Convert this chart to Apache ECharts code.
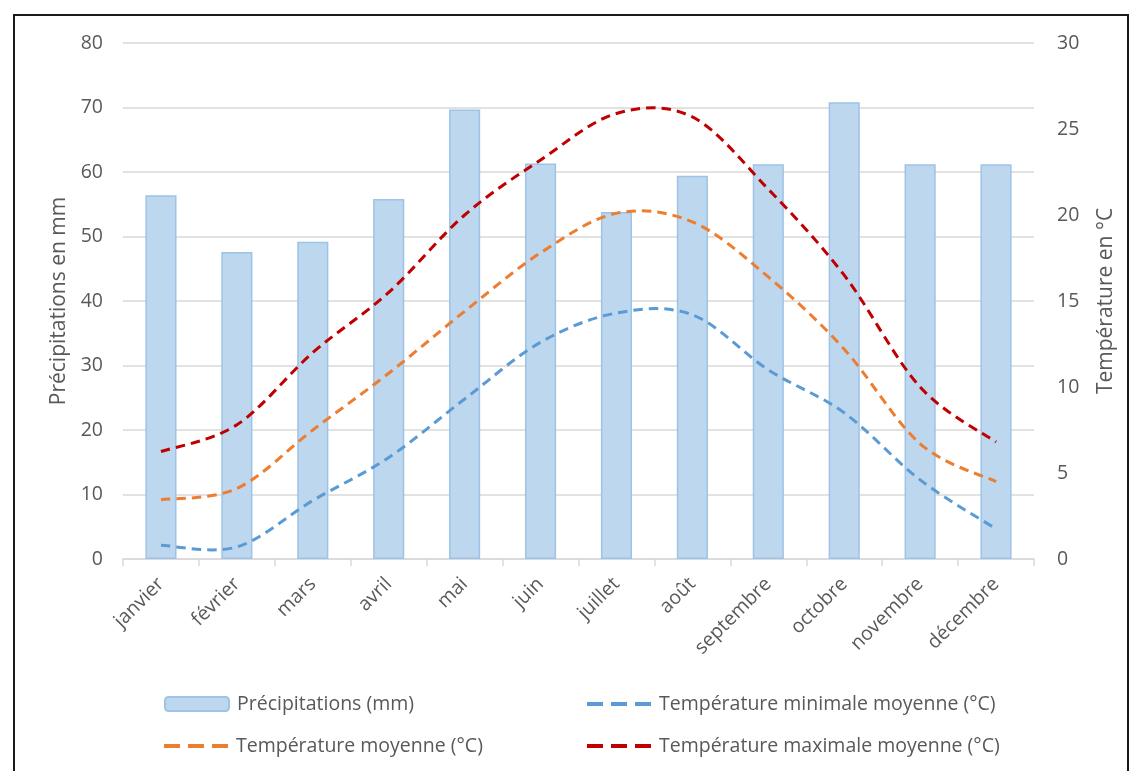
<!DOCTYPE html>
<html><head><meta charset="utf-8">
<script src="https://cdn.jsdelivr.net/npm/echarts@6/dist/echarts.min.js"></script>
<style>html,body{margin:0;padding:0;background:#fff}#c{width:1133px;height:771px}</style>
</head><body><div id="c"></div>
<script>
const categories = ['janvier','février','mars','avril','mai','juin','juillet','août','septembre','octobre','novembre','décembre'];
const precipitations = [56.4, 47.6, 49.2, 55.8, 69.7, 61.3, 53.8, 59.4, 61.2, 70.8, 61.2, 61.2];
const tempMin = [0.8, 0.7, 3.4, 5.9, 9.3, 12.6, 14.3, 14.2, 11.0, 8.5, 4.6, 1.75];
const tempMoy = [3.45, 4.1, 7.5, 10.8, 14.4, 17.8, 20.1, 19.6, 16.4, 12.2, 6.7, 4.5];
const tempMax = [6.25, 7.8, 12.0, 15.5, 20.0, 23.2, 25.9, 25.7, 21.5, 16.5, 10.0, 6.8];
const names = ['Précipitations (mm)','Température minimale moyenne (°C)','Température moyenne (°C)','Température maximale moyenne (°C)'];

const FONT = '"Open Sans", sans-serif';
const TXT = '#595959';
const chart = echarts.init(document.getElementById('c'), null, {renderer:'canvas'});

// Smoothed dashed curve drawn through the axes' scales (Catmull-Rom style bezier, like spreadsheet smoothing)
function curveSeries(name, data, color){
  return {
    name, type:'custom', yAxisIndex:1, z:3,
    data: data.map((v,i)=>[i,v]),
    encode:{x:0, y:1},
    itemStyle:{color},
    renderItem:function(params, api){
      if (params.dataIndex !== 0) return null;
      const pts = data.map((v,i)=>api.coord([i,v]));
      const n = pts.length;
      let d = 'M' + pts[0][0] + ',' + pts[0][1];
      for (let i=0;i<n-1;i++){
        const p0 = pts[i-1] || pts[i], p1 = pts[i], p2 = pts[i+1], p3 = pts[i+2] || pts[i+1];
        const c1x = p1[0] + (p2[0]-p0[0])/6, c1y = p1[1] + (p2[1]-p0[1])/6;
        const c2x = p2[0] - (p3[0]-p1[0])/6, c2y = p2[1] - (p3[1]-p1[1])/6;
        d += ' C' + c1x + ',' + c1y + ' ' + c2x + ',' + c2y + ' ' + p2[0] + ',' + p2[1];
      }
      return {type:'path', shape:{pathData:d}, silent:true,
        style:{fill:null, stroke:color, lineWidth:3, lineDash:[9.5,6]}};
    }
  };
}
const DASH_ICON = 'path://M0,0h16v4h-16z M24,0h16v4h-16z M48,0h16v4h-16z';
function leg(name, left, top, isBar){
  return {data:[isBar ? {name} : {name, icon:DASH_ICON}], left, top, padding:0,
    itemWidth:64, itemHeight:isBar ? 14 : 4, itemGap:0,
    textStyle:{fontFamily:FONT, fontSize:19.5, color:TXT, padding:[0,0,0,3]}};
}
chart.setOption({
  animation:false,
  grid:{left:123, right:99, top:43, bottom:212},
  graphic:[{type:'rect', shape:{x:14, y:15, width:1114, height:770}, style:{fill:'none', stroke:'#1a1a1a', lineWidth:2}}],
  legend:[leg(names[0],164,694,true), leg(names[1],587,694), leg(names[2],164,736), leg(names[3],587,736)],
  xAxis:{type:'category', data:categories, boundaryGap:true,
    axisLine:{lineStyle:{color:'#D9D9D9', width:1.5}},
    axisTick:{show:true, length:7, lineStyle:{color:'#D9D9D9', width:1.5}},
    axisLabel:{rotate:45, fontFamily:FONT, fontSize:19.5, color:TXT, margin:22, interval:0}},
  yAxis:[
    {type:'value', min:0, max:80, interval:10, name:'Précipitations en mm', nameLocation:'middle', nameGap:47,
     nameTextStyle:{fontFamily:FONT, fontSize:21, color:TXT},
     axisLine:{show:false}, axisTick:{show:false},
     axisLabel:{fontFamily:FONT, fontSize:19.5, color:TXT, margin:20},
     splitLine:{lineStyle:{color:'#D9D9D9', width:1.5}}},
    {type:'value', min:0, max:30, interval:5, name:'Température en °C', nameLocation:'middle', nameGap:62,
     nameTextStyle:{fontFamily:FONT, fontSize:21, color:TXT},
     axisLine:{show:false}, axisTick:{show:false},
     axisLabel:{fontFamily:FONT, fontSize:19.5, color:TXT, margin:23},
     splitLine:{show:false}}
  ],
  series:[
    {name:names[0], type:'bar', data:precipitations, barWidth:'41%',
     itemStyle:{color:'#BDD7EE', borderColor:'#9DC3E6', borderWidth:1.5}},
    curveSeries(names[1], tempMin, '#5B9BD5'),
    curveSeries(names[2], tempMoy, '#ED7D31'),
    curveSeries(names[3], tempMax, '#C00000')
  ]
});
</script></body></html>
